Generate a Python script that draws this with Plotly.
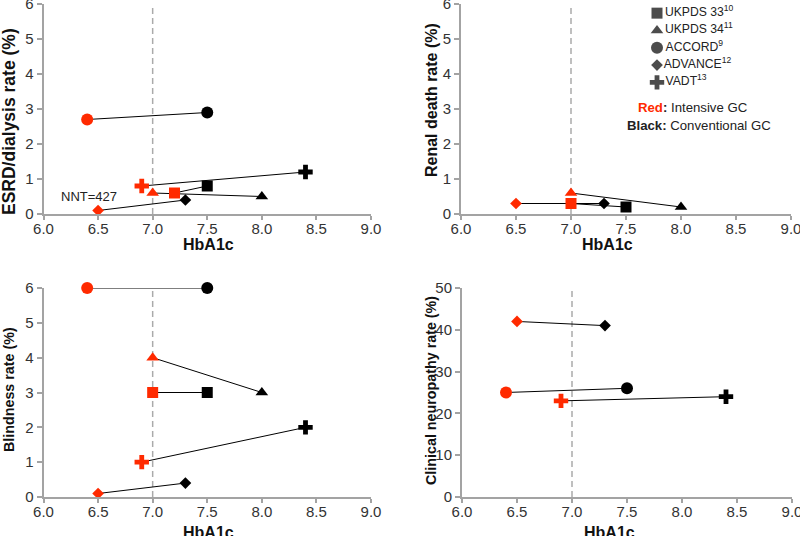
import plotly.graph_objects as go

# ---------------- data ----------------
studies = ["UKPDS 33", "UKPDS 34", "ACCORD", "ADVANCE", "VADT"]
study_refs = ["10", "11", "9", "12", "13"]

hba1c_ticks = [6.0, 6.5, 7.0, 7.5, 8.0, 8.5, 9.0]
hba1c_target = 7.0

# ESRD / dialysis rate (%)
esrd_int_hba1c = [7.2, 7.0, 6.4, 6.5, 6.9]
esrd_int_rate = [0.6, 0.6, 2.7, 0.1, 0.8]
esrd_conv_hba1c = [7.5, 8.0, 7.5, 7.3, 8.4]
esrd_conv_rate = [0.8, 0.5, 2.9, 0.4, 1.2]
esrd_note = "NNT=427"
esrd_note_pos = [6.42, 0.49]

# Renal death rate (%)
renal_int_hba1c = [7.0, 7.0, None, 6.5, None]
renal_int_rate = [0.3, 0.6, None, 0.3, None]
renal_conv_hba1c = [7.5, 8.0, None, 7.3, None]
renal_conv_rate = [0.2, 0.2, None, 0.3, None]

# Blindness rate (%)
blind_int_hba1c = [7.0, 7.0, 6.4, 6.5, 6.9]
blind_int_rate = [3.0, 4.0, 6.0, 0.1, 1.0]
blind_conv_hba1c = [7.5, 8.0, 7.5, 7.3, 8.4]
blind_conv_rate = [3.0, 3.0, 6.0, 0.4, 2.0]

# Clinical neuropathy rate (%)
neuro_int_hba1c = [None, None, 6.4, 6.5, 6.9]
neuro_int_rate = [None, None, 25.0, 42.0, 23.0]
neuro_conv_hba1c = [None, None, 7.5, 7.3, 8.4]
neuro_conv_rate = [None, None, 26.0, 41.0, 24.0]

y_ticks_small = [0, 1, 2, 3, 4, 5, 6]
y_ticks_neuro = [0, 10, 20, 30, 40, 50]

# ---------------- style ----------------
RED = "#FF2A00"
BLACK = "#000000"
AXIS = "#A3A3A3"
FONT = "Liberation Sans, Arial, sans-serif"
symbols = ["square", "triangle-up", "circle", "diamond", "cross"]
sizes = [11, 11, 12, 9, 12]

W, H = 800, 536
def px_x(p): return p / W
def px_y(p): return 1 - p / H

panels = [
    dict(ax="", dom_x=(43.5, 371), dom_y=(214, 4), ih=esrd_int_hba1c, ir=esrd_int_rate,
         ch=esrd_conv_hba1c, cr=esrd_conv_rate, yticks=y_ticks_small,
         title="ESRD/dialysis rate (%)", tx=9, ty=122, tsize=17.5, xt=(208, 244)),
    dict(ax="2", dom_x=(461, 791), dom_y=(214, 4), ih=renal_int_hba1c, ir=renal_int_rate,
         ch=renal_conv_hba1c, cr=renal_conv_rate, yticks=y_ticks_small,
         title="Renal death rate (%)", tx=432, ty=100, tsize=16, xt=(607, 244)),
    dict(ax="3", dom_x=(43.5, 371), dom_y=(497, 288), ih=blind_int_hba1c, ir=blind_int_rate,
         ch=blind_conv_hba1c, cr=blind_conv_rate, yticks=y_ticks_small,
         title="Blindness rate (%)", tx=9, ty=390, tsize=14.3, xt=(208, 532)),
    dict(ax="4", dom_x=(462, 792), dom_y=(497, 288), ih=neuro_int_hba1c, ir=neuro_int_rate,
         ch=neuro_conv_hba1c, cr=neuro_conv_rate, yticks=y_ticks_neuro,
         title="Clinical neuropathy rate (%)", tx=431, ty=390, tsize=14.3, xt=(609, 532)),
]

fig = go.Figure()
layout = dict(
    template="none",
    width=W, height=H, margin=dict(l=0, r=0, t=0, b=0, pad=0),
    paper_bgcolor="white", plot_bgcolor="white",
    font=dict(family=FONT, color="#222"),
    showlegend=False,
)
shapes, annotations = [], []

for p in panels:
    xa, ya = "x" + p["ax"], "y" + p["ax"]
    # connecting lines first
    for i in range(len(studies)):
        if p["ih"][i] is None:
            continue
        fig.add_trace(go.Scatter(
            x=[p["ih"][i], p["ch"][i]], y=[p["ir"][i], p["cr"][i]],
            mode="lines", line=dict(color=BLACK, width=1),
            xaxis=xa, yaxis=ya, hoverinfo="skip", cliponaxis=False))
    # markers
    for i in range(len(studies)):
        if p["ih"][i] is None:
            continue
        fig.add_trace(go.Scatter(
            x=[p["ih"][i], p["ch"][i]], y=[p["ir"][i], p["cr"][i]],
            mode="markers",
            marker=dict(color=[RED, BLACK], symbol=symbols[i], size=sizes[i], line=dict(width=0)),
            xaxis=xa, yaxis=ya, name=studies[i], cliponaxis=False))

    yt = p["yticks"]
    layout["xaxis" + p["ax"]] = dict(
        domain=[px_x(p["dom_x"][0]), px_x(p["dom_x"][1])], range=[6, 9],
        tickvals=hba1c_ticks, ticktext=[f"{v:.1f}" for v in hba1c_ticks],
        showline=True, linecolor=AXIS, linewidth=2, ticks="outside", ticklen=4,
        ticklabelstandoff=-4, ticklabeloverflow="allow",
        tickcolor=AXIS, tickwidth=2, showgrid=False, zeroline=False, automargin=False,
        tickfont=dict(size=15, color="#333"), anchor=ya, fixedrange=True)
    layout["yaxis" + p["ax"]] = dict(
        domain=[px_y(p["dom_y"][0]), px_y(p["dom_y"][1])], range=[yt[0], yt[-1]],
        tickvals=yt, showline=True, linecolor=AXIS, linewidth=2, ticks="outside",
        ticklen=5, tickcolor=AXIS, tickwidth=2, showgrid=False, zeroline=False,
        ticklabeloverflow="allow",
        automargin=False, tickfont=dict(size=15, color="#333"), anchor=xa, fixedrange=True)

    shapes.append(dict(type="line", xref=xa, yref=ya + " domain", x0=hba1c_target,
                       x1=hba1c_target, y0=0, y1=1,
                       line=dict(color="#AAAAAA", width=1.5, dash="6px,4px"), layer="below"))
    annotations.append(dict(text="<b>" + p["title"] + "</b>", xref="paper", yref="paper",
                            x=px_x(p["tx"]), y=px_y(p["ty"]), xanchor="center", yanchor="middle",
                            textangle=-90, showarrow=False,
                            font=dict(size=p["tsize"], color="#111", family=FONT)))
    annotations.append(dict(text="<b>HbA1c</b>", xref="paper", yref="paper",
                            x=px_x(p["xt"][0]), y=px_y(p["xt"][1]), xanchor="center",
                            yanchor="middle", showarrow=False,
                            font=dict(size=16, color="#111", family=FONT)))

annotations.append(dict(text=esrd_note, x=esrd_note_pos[0], y=esrd_note_pos[1], xref="x", yref="y",
                        showarrow=False, font=dict(size=13, color="#222", family=FONT)))
annotations.append(dict(text=f"<b><span style='color:{RED}'>Red</span>:</b> Intensive GC",
                        xref="paper", yref="paper", x=px_x(636), y=px_y(107),
                        xanchor="left", yanchor="middle", showarrow=False,
                        font=dict(size=13.2, color="#222", family=FONT)))
annotations.append(dict(text="<b>Black:</b> Conventional GC",
                        xref="paper", yref="paper", x=px_x(625), y=px_y(126),
                        xanchor="left", yanchor="middle", showarrow=False,
                        font=dict(size=13.2, color="#222", family=FONT)))

# key: black markers with study names, on a hidden axis (rows = study index)
fig.add_trace(go.Scatter(
    x=[0] * len(studies), y=studies, mode="markers+text",
    text=[f"{s}<sup>{r}</sup>" for s, r in zip(studies, study_refs)],
    textposition="middle right", textfont=dict(size=12.2, color="#222", family=FONT),
    marker=dict(color=BLACK, symbol=symbols, size=sizes, line=dict(width=0)),
    xaxis="x5", yaxis="y5", cliponaxis=False, hoverinfo="skip"))
layout["xaxis5"] = dict(domain=[px_x(657), px_x(790)], range=[0, 1], visible=False,
                        anchor="y5", fixedrange=True)
layout["yaxis5"] = dict(domain=[px_y(91), px_y(4.5)], type="category",
                        categoryorder="array", categoryarray=studies, range=[4.5, -0.5],
                        visible=False, anchor="x5", fixedrange=True)

layout["shapes"] = shapes
layout["annotations"] = annotations
fig.update_layout(**layout)
fig.write_html("out.html", config={"displayModeBar": False},
               post_script="document.body.style.margin='0';document.body.style.padding='0';")
